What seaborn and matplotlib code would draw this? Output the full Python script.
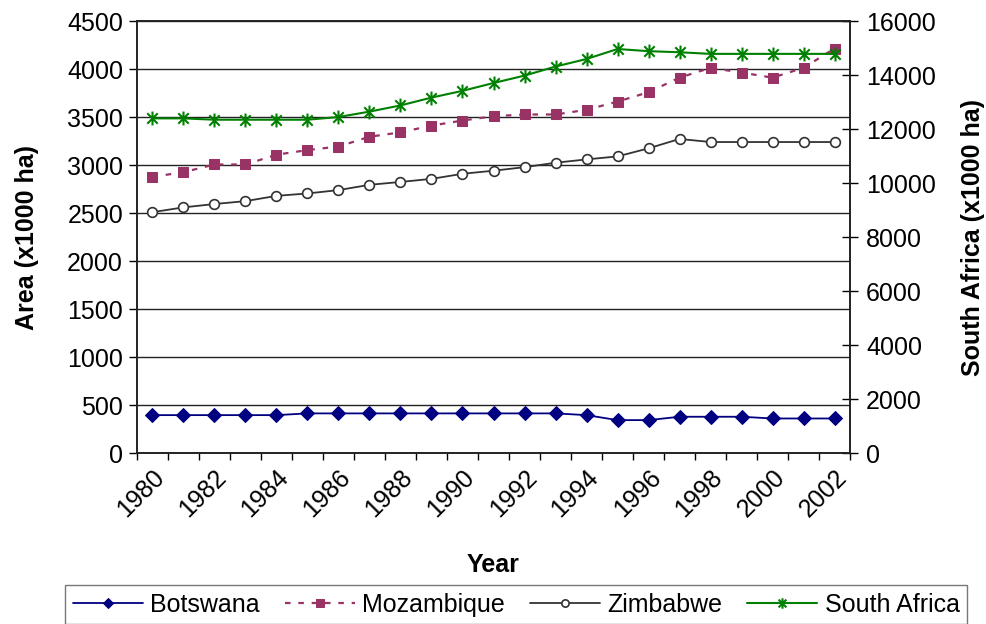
import matplotlib
matplotlib.use("Agg")
import matplotlib.pyplot as plt
import seaborn as sns
import numpy as np
import pandas as pd
from matplotlib.path import Path
from matplotlib.ticker import FixedLocator

years = list(range(1980, 2003))
botswana = [395, 395, 395, 395, 395, 413, 413, 413, 413, 413, 413, 413, 413, 413,
            395, 343, 343, 378, 378, 378, 360, 360, 360]
mozambique = [2878, 2927, 3007, 3007, 3109, 3157, 3194, 3296, 3342, 3412, 3465, 3510,
              3528, 3528, 3577, 3662, 3760, 3912, 4014, 3965, 3912, 4014, 4215]
zimbabwe = [2510, 2560, 2595, 2625, 2680, 2705, 2740, 2795, 2825, 2857, 2910, 2942,
            2979, 3025, 3060, 3091, 3175, 3273, 3241, 3241, 3241, 3241, 3241]
south_africa = [12400, 12400, 12350, 12350, 12350, 12350, 12450, 12650, 12880, 13170,
                13420, 13710, 13985, 14320, 14600, 14970, 14890, 14850, 14790, 14790,
                14790, 14790, 14790]
left_ticks = [0, 500, 1000, 1500, 2000, 2500, 3000, 3500, 4000, 4500]
right_ticks = [0, 2000, 4000, 6000, 8000, 10000, 12000, 14000, 16000]
label_years = years[::2]

sns.set_style("white")
plt.rcParams['font.family'] = ['Liberation Sans', 'DejaVu Sans']
plt.rcParams['text.color'] = 'black'
plt.rcParams['axes.labelcolor'] = 'black'
plt.rcParams['xtick.color'] = 'black'
plt.rcParams['ytick.color'] = 'black'

fig = plt.figure(figsize=(9.87, 6.24), dpi=100)
ax = fig.add_axes([0.1388, 0.274, 0.7224, 0.692])
ax2 = ax.twinx()

# Excel-like asterisk marker: vertical line + X
star = Path([(0, -1), (0, 1), (-0.75, -0.75), (0.75, 0.75), (-0.75, 0.75), (0.75, -0.75)],
            [Path.MOVETO, Path.LINETO, Path.MOVETO, Path.LINETO, Path.MOVETO, Path.LINETO])

df = pd.DataFrame({"Year": years, "Botswana": botswana, "Mozambique": mozambique,
                   "Zimbabwe": zimbabwe, "South Africa": south_africa})

sns.lineplot(data=df, x="Year", y="Botswana", ax=ax, color="#000080", marker="D",
             markersize=7, markeredgecolor="#000080", lw=1.3, label="Botswana")
sns.lineplot(data=df, x="Year", y="Mozambique", ax=ax, color="#993366", marker="s",
             markersize=7, markeredgecolor="#993366", lw=1.6, linestyle=(0, (2.5, 3.5)),
             label="Mozambique")
sns.lineplot(data=df, x="Year", y="Zimbabwe", ax=ax, color="#333333", marker="o",
             markersize=7, markerfacecolor="white", markeredgecolor="#333333",
             markeredgewidth=1.2, lw=1.3, label="Zimbabwe")
sns.lineplot(data=df, x="Year", y="South Africa", ax=ax2, color="#008000", marker=star,
             markersize=10, markeredgecolor="#008000", markeredgewidth=1.5, lw=1.5,
             label="South Africa")

h1, l1 = ax.get_legend_handles_labels()
h2, l2 = ax2.get_legend_handles_labels()
for a in (ax, ax2):
    if a.get_legend() is not None:
        a.get_legend().remove()

ax.set_xlim(1979.5, 2002.5)
ax.set_ylim(0, 4500)
ax2.set_ylim(0, 16000)
ax.set_yticks(left_ticks)
ax2.set_yticks(right_ticks)
ax.set_xticks(label_years)
ax.set_xticklabels([str(y) for y in label_years], rotation=45, ha="right",
                   rotation_mode="anchor", fontsize=18)
ax.xaxis.set_minor_locator(FixedLocator([y - 0.5 for y in years] + [years[-1] + 0.5]))
ax.tick_params(axis="x", which="major", length=0, pad=9)
ax.tick_params(axis="x", which="minor", direction="out", length=5, width=1, color="black",
               bottom=True)
ax.tick_params(axis="y", direction="out", length=6, width=1, color="black", labelsize=18,
               left=True, pad=4)
ax2.tick_params(axis="y", direction="inout", length=11, width=1, color="black",
                labelsize=18, right=True, pad=6)

ax.grid(axis="y", color="#222222", lw=1)
ax.grid(axis="x", visible=False)
ax2.grid(False)
for a in (ax, ax2):
    for s in a.spines.values():
        s.set_visible(True)
        s.set_color("#222222")
        s.set_linewidth(1.2)
ax.set_axisbelow(True)

ax.set_xlabel("Year", fontsize=18, fontweight="bold", labelpad=22)
ax.set_ylabel("Area (x1000 ha)", fontsize=18, fontweight="bold", labelpad=20)
ax2.set_ylabel("South Africa (x1000 ha)", fontsize=18, fontweight="bold", labelpad=18)

leg = fig.legend(h1 + h2, l1 + l2, loc="upper center", bbox_to_anchor=(0.523, 0.062),
                 ncol=4, fontsize=18, frameon=True, fancybox=False, edgecolor="#555555",
                 handlelength=2.8, columnspacing=1.0, handletextpad=0.3,
                 borderpad=0.3, borderaxespad=0, markerscale=0.75)
leg.get_frame().set_linewidth(1)

fig.savefig("out.png", dpi=100)
